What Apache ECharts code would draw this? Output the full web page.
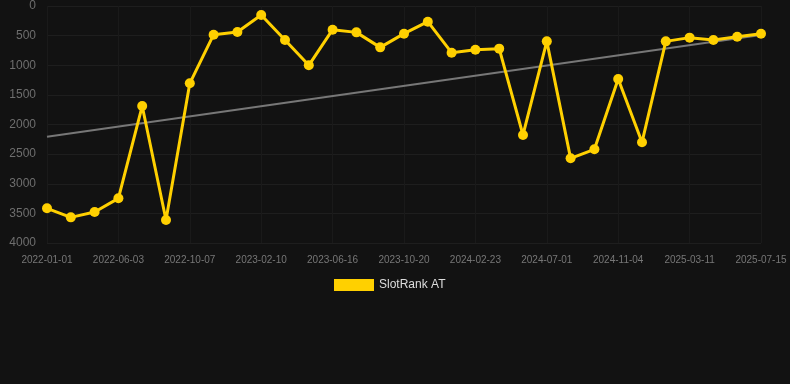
<!DOCTYPE html>
<html>
<head>
<meta charset="utf-8">
<script src="https://cdn.jsdelivr.net/npm/echarts@6/dist/echarts.min.js"></script>
<style>
html,body{margin:0;padding:0;background:#121212;}
#chart{width:790px;height:384px;}
</style>
</head>
<body>
<div id="chart"></div>
<script>
var categories = [
  '2022-01-01','2022-03-11','2022-04-22','2022-06-03','2022-07-15','2022-08-26',
  '2022-10-07','2022-11-18','2022-12-30','2023-02-10','2023-03-24','2023-05-05',
  '2023-06-16','2023-07-28','2023-09-08','2023-10-20','2023-12-01','2024-01-12',
  '2024-02-23','2024-04-05','2024-05-17','2024-07-01','2024-08-12','2024-09-23',
  '2024-11-04','2024-12-16','2025-01-27','2025-03-11','2025-04-22','2025-06-03',
  '2025-07-15'
];
var rankValues = [
  3415, 3567, 3477, 3246, 1688, 3612,
  1305, 484, 439, 152, 574, 1001,
  400, 445, 698, 467, 265, 788,
  737, 720, 2177, 597, 2571, 2419,
  1232, 2301, 597, 534, 574, 518,
  467
];
var trendStart = 2206;
var trendEnd = 491;
var yTicks = [0, 500, 1000, 1500, 2000, 2500, 3000, 3500, 4000];

var trendData = categories.map(function (c, i) {
  if (i === 0) return trendStart;
  if (i === categories.length - 1) return trendEnd;
  return null;
});

var chart = echarts.init(document.getElementById('chart'));
chart.setOption({
  backgroundColor: '#121212',
  animation: false,
  grid: { left: 47, right: 29, top: 6, bottom: 141 },
  legend: {
    top: 274,
    left: 329,
    itemWidth: 40,
    itemHeight: 12,
    itemGap: 10,
    icon: 'rect',
    textStyle: { color: '#dddddd', fontSize: 12, fontFamily: 'Arial, Liberation Sans, sans-serif' },
    data: ['SlotRank AT']
  },
  xAxis: {
    type: 'category',
    data: categories,
    boundaryGap: false,
    axisLine: { show: false },
    axisTick: { show: false },
    axisLabel: {
      interval: 2,
      color: '#777777',
      fontSize: 10,
      margin: 12,
      fontFamily: 'Arial, Liberation Sans, sans-serif'
    },
    splitLine: { show: true, interval: 2, lineStyle: { color: '#1a1a1a', width: 1 } }
  },
  yAxis: {
    type: 'value',
    inverse: true,
    min: yTicks[0],
    max: yTicks[yTicks.length - 1],
    interval: 500,
    axisLine: { show: false },
    axisTick: { show: false },
    axisLabel: {
      color: '#6e6e6e',
      fontSize: 12,
      margin: 11,
      formatter: function (v) { return String(v); },
      fontFamily: 'Arial, Liberation Sans, sans-serif'
    },
    splitLine: { lineStyle: { color: '#1e1e1e', width: 1 } }
  },
  series: [
    {
      name: 'trend',
      type: 'line',
      data: trendData,
      connectNulls: true,
      symbol: 'none',
      lineStyle: { color: '#777777', width: 2 },
      z: 1,
      silent: true
    },
    {
      name: 'SlotRank AT',
      type: 'line',
      data: rankValues,
      symbol: 'circle',
      symbolSize: 10,
      color: '#FFD000',
      lineStyle: { color: '#FFD000', width: 3 },
      itemStyle: { color: '#FFD000' },
      z: 2
    }
  ]
});
</script>
</body>
</html>
